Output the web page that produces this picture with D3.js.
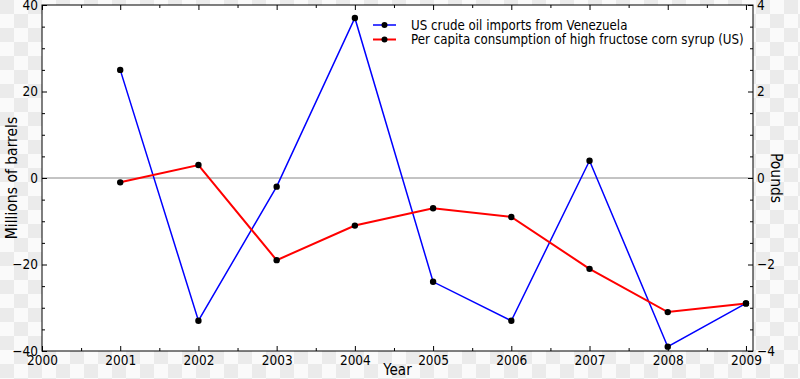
<!DOCTYPE html>
<html>
<head>
<meta charset="utf-8">
<script src="https://cdn.jsdelivr.net/npm/d3@7"></script>
<style>
	html, body { margin: 0; padding: 0; }
	body { width: 800px; height: 379px; overflow: hidden; }
	text { font-family: "DejaVu Sans Condensed", "DejaVu Sans", sans-serif; fill: #000; }
</style>
</head>
<body>
<div id="chart"></div>
<script>

// data
const years = [2001, 2002, 2003, 2004, 2005, 2006, 2007, 2008, 2009];
const oilImports = [25, -33, -2, 37, -24, -33, 4, -39, -29];          // millions of barrels (left axis)
const hfcsConsumption = [-0.1, 0.3, -1.9, -1.1, -0.7, -0.9, -2.1, -3.1, -2.9]; // pounds (right axis)

const xTicks = [2000, 2001, 2002, 2003, 2004, 2005, 2006, 2007, 2008, 2009];
const leftTicks = [-40, -20, 0, 20, 40];
const rightTicks = [-4, -2, 0, 2, 4];

const seriesNames = [
	"US crude oil imports from Venezuela",
	"Per capita consumption of high fructose corn syrup (US)"
];

const width = 800, height = 379;
const margin = { top: 5, right: 47, bottom: 28, left: 42 };
const fontSize = 13.5;

const svg = d3.select("#chart")
	.append("svg")
	.attr("width", width)
	.attr("height", height);

// checkerboard backdrop
const pattern = svg.append("defs")
	.append("pattern")
		.attr("id", "checker")
		.attr("width", 28)
		.attr("height", 28)
		.attr("patternUnits", "userSpaceOnUse");
pattern.append("rect").attr("width", 28).attr("height", 28).attr("fill", "#fafafa");
pattern.append("rect").attr("width", 14).attr("height", 14).attr("fill", "#ebebeb");
pattern.append("rect").attr("x", 14).attr("y", 14).attr("width", 14).attr("height", 14).attr("fill", "#ebebeb");

svg.append("rect")
	.attr("width", width)
	.attr("height", height)
	.attr("fill", "url(#checker)");

const x = d3.scaleLinear()
	.domain([2000, 2009.09])
	.range([margin.left, width - margin.right]);

const yLeft = d3.scaleLinear()
	.domain([-40, 40])
	.range([height - margin.bottom, margin.top]);

const yRight = d3.scaleLinear()
	.domain([-4, 4])
	.range([height - margin.bottom, margin.top]);

const x0 = margin.left, x1 = width - margin.right;
const y0 = margin.top, y1 = height - margin.bottom;

svg.append("rect")
	.attr("x", x0)
	.attr("y", y0)
	.attr("width", x1 - x0)
	.attr("height", y1 - y0)
	.attr("fill", "#fff");

// zero line
svg.append("line")
	.attr("x1", x0)
	.attr("x2", x1)
	.attr("y1", yLeft(0))
	.attr("y2", yLeft(0))
	.attr("stroke", "#888")
	.attr("stroke-width", 1);

// axes, ticks point inward
function styleAxis(g){
	g.select(".domain").remove();
	g.selectAll("line").attr("stroke", "#000");
	g.selectAll("text")
		.attr("font-size", fontSize)
		.attr("font-family", null);
}

const halfYears = d3.range(2000.5, 2009, 1);

svg.append("g")
	.attr("transform", `translate(0,${y1})`)
	.call(d3.axisBottom(x).tickValues(xTicks).tickFormat(d3.format("d")).tickSize(-5).tickPadding(4))
	.call(styleAxis);

svg.append("g")
	.attr("transform", `translate(0,${y1})`)
	.call(d3.axisBottom(x).tickValues(halfYears).tickFormat("").tickSize(-3))
	.call(styleAxis);

svg.append("g")
	.attr("transform", `translate(0,${y0})`)
	.call(d3.axisTop(x).tickValues(xTicks).tickFormat("").tickSize(-5))
	.call(styleAxis);

svg.append("g")
	.attr("transform", `translate(0,${y0})`)
	.call(d3.axisTop(x).tickValues(halfYears).tickFormat("").tickSize(-3))
	.call(styleAxis);

const minus = (v) => v < 0 ? "\u2212" + Math.abs(v) : String(v);

svg.append("g")
	.attr("transform", `translate(${x0},0)`)
	.call(d3.axisLeft(yLeft).tickValues(leftTicks).tickFormat(minus).tickSize(-5).tickPadding(4))
	.call(styleAxis);

svg.append("g")
	.attr("transform", `translate(${x0},0)`)
	.call(d3.axisLeft(yLeft).tickValues(d3.range(-35, 40, 5).filter(v => v % 20 !== 0)).tickFormat("").tickSize(-3))
	.call(styleAxis);

svg.append("g")
	.attr("transform", `translate(${x1},0)`)
	.call(d3.axisRight(yRight).tickValues(rightTicks).tickFormat(minus).tickSize(-5).tickPadding(4))
	.call(styleAxis);

svg.append("g")
	.attr("transform", `translate(${x1},0)`)
	.call(d3.axisRight(yRight).tickValues(d3.range(-3.5, 4, 0.5).filter(v => v % 2 !== 0)).tickFormat("").tickSize(-3))
	.call(styleAxis);

// frame
svg.append("rect")
	.attr("x", x0)
	.attr("y", y0)
	.attr("width", x1 - x0)
	.attr("height", y1 - y0)
	.attr("fill", "none")
	.attr("stroke", "#000")
	.attr("stroke-width", 1);

// series
const series = [
	{ name: seriesNames[0], values: oilImports, y: yLeft, color: "#0000ff", width: 1.5 },
	{ name: seriesNames[1], values: hfcsConsumption, y: yRight, color: "#ff0000", width: 2 }
];

series.forEach((s) => {
	const pts = years.map((yr, i) => [x(yr), s.y(s.values[i])]);

	svg.append("path")
		.attr("d", d3.line()(pts))
		.attr("fill", "none")
		.attr("stroke", s.color)
		.attr("stroke-width", s.width);

	svg.append("g")
		.selectAll("circle")
		.data(pts)
		.join("circle")
			.attr("cx", d => d[0])
			.attr("cy", d => d[1])
			.attr("r", 3.2)
			.attr("fill", "#000");
});

// legend
const legend = svg.append("g")
	.attr("transform", "translate(373,25)");

const item = legend.selectAll("g")
	.data(series)
	.join("g")
		.attr("transform", (d, i) => `translate(0,${i * 14.5})`);

item.append("line")
	.attr("x1", 0)
	.attr("x2", 23)
	.attr("stroke", d => d.color)
	.attr("stroke-width", d => d.width);

item.append("circle")
	.attr("cx", 11.5)
	.attr("r", 3)
	.attr("fill", "#000");

item.append("text")
	.attr("x", 38)
	.attr("dy", "0.35em")
	.attr("font-size", 13.2)
	.text(d => d.name);

// axis titles
svg.append("text")
	.attr("x", (x0 + x1) / 2)
	.attr("y", 375)
	.attr("text-anchor", "middle")
	.attr("font-size", 15)
	.text("Year");

svg.append("text")
	.attr("transform", `translate(17,${(y0 + y1) / 2}) rotate(-90)`)
	.attr("text-anchor", "middle")
	.attr("font-size", 15.5)
	.text("Millions of barrels");

svg.append("text")
	.attr("transform", `translate(771,${(y0 + y1) / 2}) rotate(90)`)
	.attr("text-anchor", "middle")
	.attr("font-size", 15.5)
	.text("Pounds");

</script>
</body>
</html>
